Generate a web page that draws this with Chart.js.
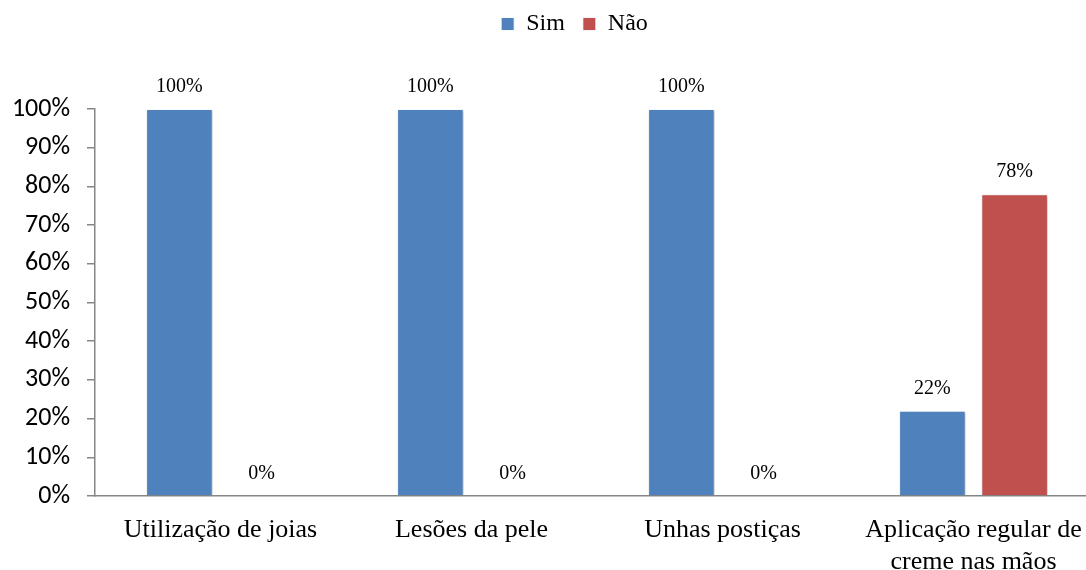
<!DOCTYPE html>
<html>
<head>
<meta charset="utf-8">
<script src="https://cdn.jsdelivr.net/npm/chart.js@4.4.0/dist/chart.umd.min.js"></script>
<style>
html,body{margin:0;padding:0;background:#fff;overflow:hidden;}
#wrap{width:1086px;height:570px;position:relative;overflow:hidden;}
</style>
</head>
<body>
<div id="wrap"><canvas id="c" width="1099" height="570"></canvas></div>
<script>
const categories = ["Utilização de joias", "Lesões da pele", "Unhas postiças", ["Aplicação regular de", "creme nas mãos"]];
const seriesNames = ["Sim", "Não"];
const simValues = [100, 100, 100, 22];
const naoValues = [0, 0, 0, 78];
const yTicks = [0, 10, 20, 30, 40, 50, 60, 70, 80, 90, 100];

const serif = "'Liberation Serif', 'Times New Roman', serif";
const sans = "'Carlito', 'Liberation Sans', Arial, sans-serif";

const legendSpacer = {
  id: 'legendSpacer',
  beforeInit(chart) {
    const lg = chart.legend;
    const origFit = lg.fit;
    lg.fit = function () {
      origFit.call(this);
      this.height += 57;
    };
    const origDraw = lg.draw;
    lg.draw = function () {
      const ctx = this.ctx;
      ctx.save();
      ctx.translate(25, -6);
      origDraw.call(this);
      ctx.restore();
    };
  }
};

const shadowPlugin = {
  id: 'shadowPlugin',
  beforeDatasetsDraw(chart) {
    const ctx = chart.ctx;
    ctx.save();
    ctx.shadowColor = 'rgba(0,0,0,0.28)';
    ctx.shadowBlur = 3;
    ctx.shadowOffsetX = 1;
    ctx.shadowOffsetY = 1;
  },
  afterDatasetsDraw(chart) {
    chart.ctx.restore();
  }
};

const valueLabels = {
  id: 'valueLabels',
  afterDatasetsDraw(chart) {
    const ctx = chart.ctx;
    ctx.save();
    ctx.font = "20px " + serif;
    ctx.fillStyle = '#000';
    ctx.textAlign = 'center';
    ctx.textBaseline = 'middle';
    chart.data.datasets.forEach((ds, i) => {
      const meta = chart.getDatasetMeta(i);
      meta.data.forEach((el, j) => {
        ctx.fillText(ds.data[j] + '%', el.x, el.y - 22);
      });
    });
    ctx.restore();
  }
};

new Chart(document.getElementById('c'), {
  type: 'bar',
  data: {
    labels: categories,
    datasets: [
      { label: seriesNames[0], data: simValues, backgroundColor: '#4F81BD', borderColor: 'rgba(255,255,255,0.9)', borderWidth: 1, categoryPercentage: 0.655, barPercentage: 0.81 },
      { label: seriesNames[1], data: naoValues, backgroundColor: '#C0504D', borderColor: 'rgba(255,255,255,0.9)', borderWidth: 1, categoryPercentage: 0.655, barPercentage: 0.81 }
    ]
  },
  options: {
    responsive: false,
    animation: false,
    layout: { padding: { top: 0, left: 0, right: 0, bottom: 0 } },
    plugins: {
      legend: {
        position: 'top',
        labels: {
          font: { family: serif, size: 24 },
          color: '#000',
          boxWidth: 13,
          boxHeight: 13,
          padding: 18
        }
      },
      tooltip: { enabled: false }
    },
    scales: {
      x: {
        grid: { display: false, drawTicks: false },
        border: { display: true, color: '#868686', width: 1.5 },
        ticks: {
          font: { family: serif, size: 26, lineHeight: 1.23 },
          color: '#000',
          maxRotation: 0,
          minRotation: 0,
          autoSkip: false,
          padding: 18
        },
        afterFit(scale) {
          scale.height = 74;
          scale.paddingLeft = 0;
          scale.paddingRight = 0;
        }
      },
      y: {
        min: 0,
        max: 100,
        afterBuildTicks(scale) {
          scale.ticks = yTicks.map(v => ({ value: v }));
        },
        grid: { display: true, drawOnChartArea: false, drawTicks: true, tickLength: 8, color: '#868686', lineWidth: 1.5 },
        border: { display: true, color: '#868686', width: 1.5 },
        ticks: {
          font: { family: sans, size: 26 },
          color: '#000',
          padding: 17,
          callback: v => v + '%'
        },
        afterFit(scale) {
          scale.width = 95;
        }
      }
    }
  },
  plugins: [legendSpacer, shadowPlugin, valueLabels]
});
</script>
</body>
</html>
